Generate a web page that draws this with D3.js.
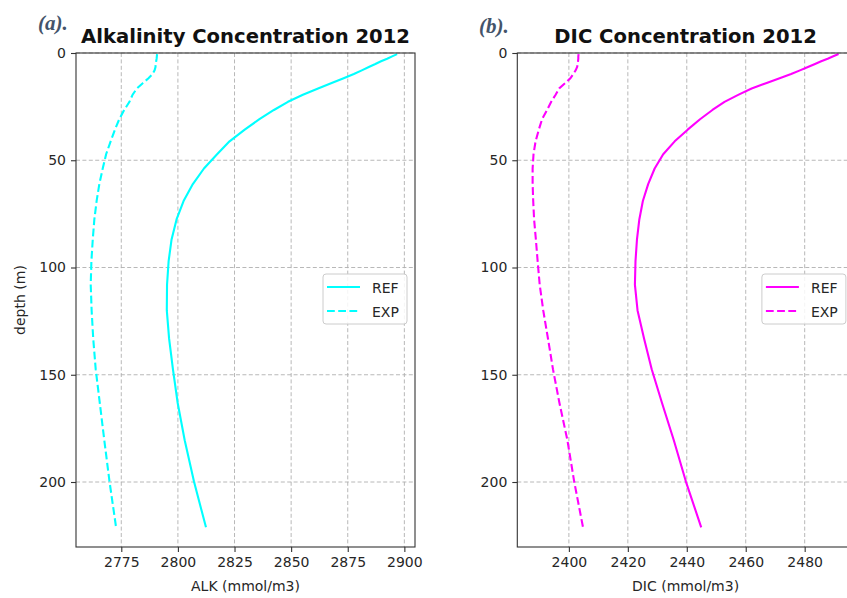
<!DOCTYPE html>
<html><head><meta charset="utf-8">
<script src="https://cdn.jsdelivr.net/npm/d3@7"></script>
<style>
html,body{margin:0;padding:0;background:#fff;overflow:hidden;}
svg{display:block;font-family:"DejaVu Sans",sans-serif;}
</style></head>
<body>
<svg id="chart" width="847" height="598"></svg>
<script>
// depth levels (m)
const depth = [0.506,1.556,2.668,3.856,5.140,6.543,8.093,9.823,11.773,13.991,16.525,19.430,22.758,26.558,30.875,35.740,41.180,47.212,53.851,61.113,69.022,77.611,86.929,97.041,108.030,120.000,133.076,147.406,163.164,180.550,199.790,221.141];
const alkRef = [2896.8,2894.6,2892.4,2889.7,2887.2,2884.3,2881.2,2877.7,2873.2,2867.9,2861.9,2855.2,2848.6,2842.4,2836.0,2829.5,2822.8,2817.3,2811.5,2806.6,2802.5,2799.4,2797.2,2795.9,2795.2,2795.1,2796.1,2797.8,2799.9,2803.0,2807.1,2812.4];
const alkExp = [2790.8,2790.7,2790.6,2790.4,2790.2,2790.1,2789.7,2788.8,2787.0,2784.6,2781.9,2780.0,2778.6,2776.3,2774.1,2772.2,2770.3,2768.3,2766.8,2765.3,2764.1,2763.1,2762.4,2761.8,2761.5,2761.9,2762.6,2763.7,2765.5,2767.5,2769.8,2772.7];
const dicRef = [2491.5,2489.7,2487.8,2485.6,2483.5,2481.1,2478.4,2475.4,2471.5,2467.1,2462.0,2457.6,2452.8,2448.7,2444.5,2440.3,2435.9,2432.0,2429.1,2426.9,2425.1,2423.9,2423.1,2422.6,2422.4,2423.3,2425.5,2428.1,2431.6,2435.6,2439.7,2444.9];
const dicExp = [2403.3,2403.2,2403.2,2403.1,2403.0,2402.8,2402.3,2401.5,2400.5,2398.8,2396.7,2395.5,2394.0,2392.6,2390.9,2389.8,2388.7,2388.0,2387.7,2387.7,2387.9,2388.2,2388.8,2389.4,2390.1,2391.3,2392.9,2394.6,2396.8,2399.5,2401.8,2404.8];
const alkTicks = [2775,2800,2825,2850,2875,2900];
const dicTicks = [2400,2420,2440,2460,2480];
const depthTicks = [0,50,100,150,200];
const seriesNames = ["REF","EXP"];

const svg = d3.select("#chart");
const plotTop = 53, plotBottom = 547;

function panel(cfg){
  const g = svg.append("g");
  const x = d3.scaleLinear().domain(cfg.xDomain).range(cfg.xRange);
  const y = d3.scaleLinear().domain([0, 230.3]).range([plotTop, plotBottom]);
  const L = cfg.xRange[0], R = cfg.xRange[1];
  const clipId = "clip" + cfg.id;
  svg.append("clipPath").attr("id", clipId).append("rect")
    .attr("x", L).attr("y", plotTop).attr("width", R - L).attr("height", plotBottom - plotTop);

  // grid
  const grid = g.append("g").attr("stroke", "#b0b0b0").attr("stroke-width", 0.9).attr("stroke-dasharray", "4,2.4");
  cfg.xTicks.forEach(t => grid.append("line").attr("x1", x(t)).attr("x2", x(t)).attr("y1", plotTop).attr("y2", plotBottom));
  depthTicks.forEach(t => grid.append("line").attr("x1", L).attr("x2", R).attr("y1", y(t)).attr("y2", y(t)));

  // lines
  const lines = g.append("g").attr("clip-path", `url(#${clipId})`);
  const gen = (vals) => d3.line().x((d,i) => x(vals[i])).y(d => y(d))(depth);
  lines.append("path").attr("d", gen(cfg.ref)).attr("fill", "none").attr("stroke", cfg.color).attr("stroke-width", 2.1).attr("stroke-linejoin", "round");
  lines.append("path").attr("d", gen(cfg.exp)).attr("fill", "none").attr("stroke", cfg.color).attr("stroke-width", 2.1).attr("stroke-dasharray", "7.8,3.4");

  // axes
  const xAxis = d3.axisBottom(x).tickValues(cfg.xTicks).tickSize(5).tickPadding(5).tickFormat(d3.format("d"));
  const yAxis = d3.axisLeft(y).tickValues(depthTicks).tickSize(5).tickPadding(5).tickFormat(d3.format("d"));
  const gx = g.append("g").attr("transform", `translate(0,${plotBottom})`).call(xAxis);
  const gy = g.append("g").attr("transform", `translate(${L},0)`).call(yAxis);
  [gx, gy].forEach(a => {
    a.select(".domain").remove();
    a.selectAll(".tick line").attr("stroke", "#333").attr("stroke-width", 1.1);
    a.selectAll(".tick text").attr("fill", "#262626").style("font-size", "14px").style("font-family", "DejaVu Sans");
  });
  gx.selectAll(".tick text").attr("dy", "0.71em").attr("y", 10);

  // spines
  g.append("rect").attr("x", L).attr("y", plotTop).attr("width", R - L).attr("height", plotBottom - plotTop)
    .attr("fill", "none").attr("stroke", "#333").attr("stroke-width", 1.1);

  // title
  g.append("text").attr("x", (L + R) / 2).attr("y", 43).attr("text-anchor", "middle")
    .style("font-size", "19.6px").style("font-weight", "bold").attr("fill", "#111").text(cfg.title);
  // x label
  g.append("text").attr("x", (L + R) / 2).attr("y", 591).attr("text-anchor", "middle")
    .style("font-size", "14px").attr("fill", "#262626").text(cfg.xLabel);
  if (cfg.yLabel) {
    g.append("text").attr("transform", `translate(25,${(plotTop + plotBottom) / 2}) rotate(-90)`).attr("text-anchor", "middle")
      .style("font-size", "14px").attr("fill", "#262626").text(cfg.yLabel);
  }
  // panel tag
  g.append("text").attr("x", cfg.tagX).attr("y", cfg.tagY)
    .style("font-family", "Liberation Serif, serif").style("font-style", "italic").style("font-weight", "bold")
    .style("font-size", "21px").attr("fill", "#44546a").text(cfg.tag);

  // legend
  const lg = g.append("g").attr("transform", `translate(${R - 92},274)`);
  lg.append("rect").attr("width", 84).attr("height", 50).attr("rx", 3)
    .attr("fill", "#fff").attr("fill-opacity", 0.85).attr("stroke", "#cccccc").attr("stroke-width", 1);
  seriesNames.forEach((n, i) => {
    const yy = 13 + i * 24;
    lg.append("line").attr("x1", 4).attr("x2", 37).attr("y1", yy).attr("y2", yy)
      .attr("stroke", cfg.color).attr("stroke-width", 2.1)
      .attr("stroke-dasharray", i === 1 ? "7.8,3.4" : null);
    lg.append("text").attr("x", 49).attr("y", yy + 6).style("font-size", "14px").attr("fill", "#262626").text(n);
  });
}

panel({id: "a", xDomain: [2755, 2904.7], xRange: [76, 415], xTicks: alkTicks, ref: alkRef, exp: alkExp,
  color: "#00ffff", title: "Alkalinity Concentration 2012", xLabel: "ALK (mmol/m3)", yLabel: "depth (m)",
  tag: "(a).", tagX: 38, tagY: 30});
panel({id: "b", xDomain: [2382.5, 2496.7], xRange: [517.3, 853.9], xTicks: dicTicks, ref: dicRef, exp: dicExp,
  color: "#ff00ff", title: "DIC Concentration 2012", xLabel: "DIC (mmol/m3)", yLabel: null,
  tag: "(b).", tagX: 479, tagY: 33});
</script>
</body></html>
